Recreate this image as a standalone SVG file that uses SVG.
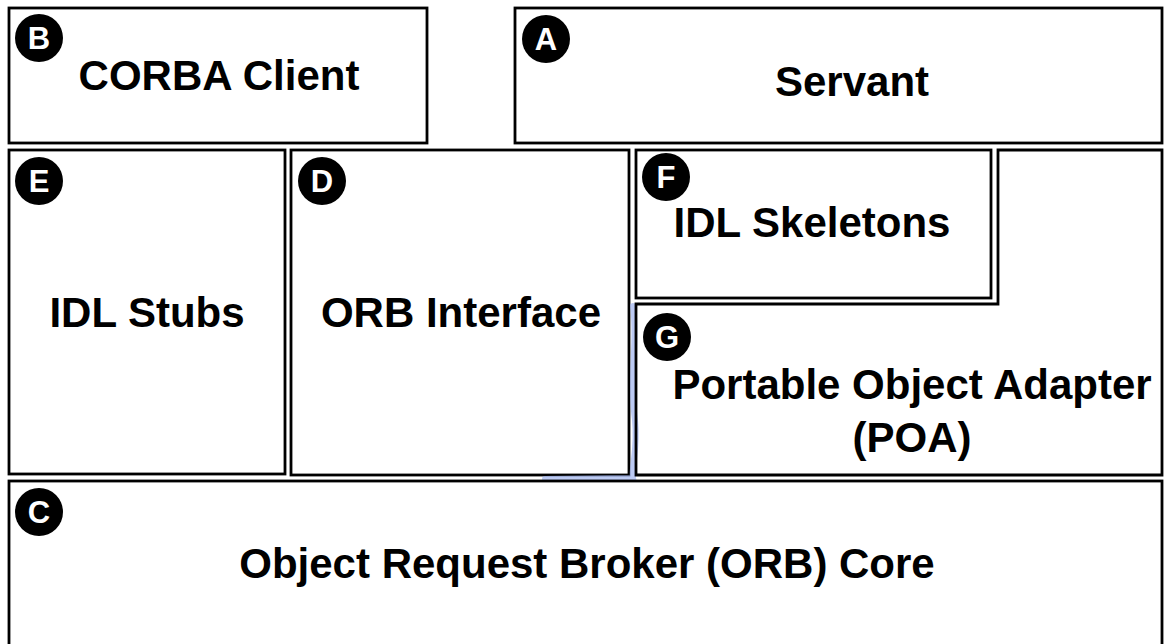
<svg xmlns="http://www.w3.org/2000/svg" width="1168" height="644" viewBox="0 0 1168 644">
  <style>
    .box { fill: #ffffff; stroke: #000000; stroke-width: 2.8; }
    .label { font-family: "Liberation Sans", Arial, sans-serif; font-weight: bold; font-size: 42px; fill: #000000; text-anchor: middle; }
    .badge circle { fill: #000000; }
    .badge text { font-family: "Liberation Sans", Arial, sans-serif; font-weight: bold; font-size: 31px; fill: #ffffff; text-anchor: middle; }
    .smudge { fill: none; stroke: #9fb3ee; stroke-width: 6; opacity: 0.7; stroke-linecap: round; }
  </style>

  <rect width="1168" height="644" fill="#ffffff"/>

  <!-- A: Servant -->
  <g id="servant">
    <rect class="box" x="515" y="8" width="647" height="135"/>
    <text class="label" x="852" y="96">Servant</text>
    <g class="badge"><circle cx="546" cy="39" r="24"/><text x="546" y="50">A</text></g>
  </g>

  <!-- B: CORBA Client -->
  <g id="corba-client">
    <rect class="box" x="9" y="8" width="418" height="135"/>
    <text class="label" x="219" y="90">CORBA Client</text>
    <g class="badge"><circle cx="39" cy="38" r="24"/><text x="39" y="49">B</text></g>
  </g>

  <!-- E: IDL Stubs -->
  <g id="idl-stubs">
    <rect class="box" x="9" y="150" width="276" height="324"/>
    <text class="label" x="147" y="327">IDL Stubs</text>
    <g class="badge"><circle cx="39" cy="181" r="24"/><text x="39" y="192">E</text></g>
  </g>

  <!-- D: ORB Interface -->
  <g id="orb-interface">
    <rect class="box" x="291" y="150" width="338" height="325"/>
    <text class="label" x="461" y="327">ORB Interface</text>
    <g class="badge"><circle cx="322" cy="181" r="24"/><text x="322" y="192">D</text></g>
  </g>

  <!-- faint blue mark along the POA / ORB interface seam -->
  <path class="smudge" d="M633 306 C638 340 629 380 635 420 C638 450 631 468 633 478 L545 479"/>

  <!-- F: IDL Skeletons -->
  <g id="idl-skeletons">
    <rect class="box" x="636" y="150" width="355" height="148"/>
    <text class="label" x="812" y="237">IDL Skeletons</text>
    <g class="badge"><circle cx="666" cy="177" r="24"/><text x="666" y="188">F</text></g>
  </g>

  <!-- G: Portable Object Adapter (L-shaped, wraps the skeletons) -->
  <g id="poa">
    <path d="M636 304 L998 304 L998 150 L1162 150 L1162 475 L636 475 Z" fill="none" stroke="#000" stroke-width="2.8"/>
    <text class="label" x="912" y="399">Portable Object Adapter</text>
    <text class="label" x="912" y="452">(POA)</text>
    <g class="badge"><circle cx="667" cy="337" r="24"/><text x="667" y="348">G</text></g>
  </g>

  <!-- C: ORB Core, open at the bottom edge -->
  <g id="orb-core">
    <rect class="box" x="9" y="481" width="1153" height="180"/>
    <text class="label" x="587" y="578">Object Request Broker (ORB) Core</text>
    <g class="badge"><circle cx="39" cy="512" r="24"/><text x="39" y="523">C</text></g>
  </g>

  <g id="connectors"/>
</svg>
